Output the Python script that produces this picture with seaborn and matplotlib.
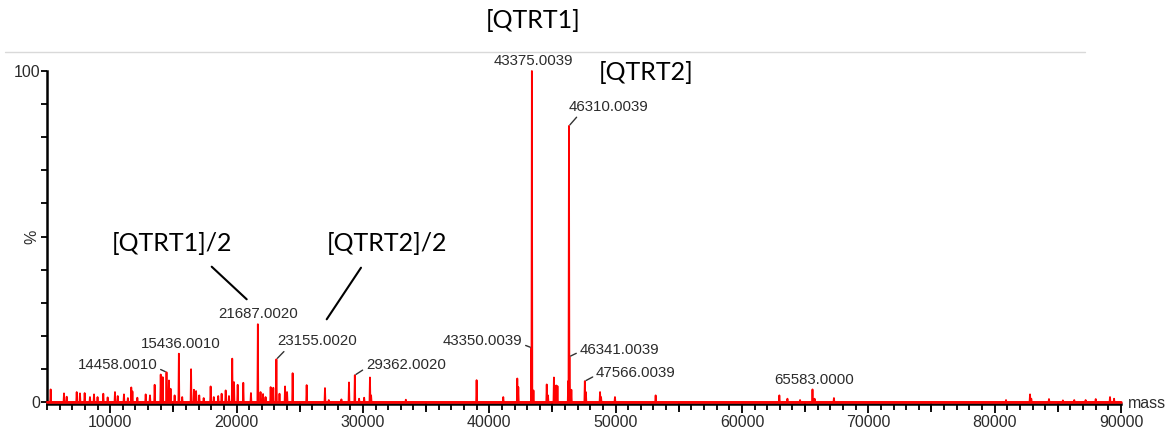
import matplotlib
matplotlib.use("Agg")
import matplotlib.pyplot as plt
from matplotlib.lines import Line2D
import numpy as np
import pandas as pd
import seaborn as sns

# ---- spectrum data -------------------------------------------------------
# labelled peaks (label text gives the mass) and their relative intensities (%)
labelled_peaks = ["14458.0010", "15436.0010", "21687.0020", "23155.0020",
                  "29362.0020", "43350.0039", "43375.0039", "46310.0039",
                  "46341.0039", "47566.0039", "65583.0000"]
labelled_heights = [9.0, 14.6, 23.5, 12.9, 8.1, 16.4, 100.0, 83.4, 13.7, 6.3, 3.8]

# remaining, unlabelled peaks
other_masses = [5290, 6345, 6560, 7350, 7610, 7980, 8400, 8720, 9000, 9455,
                9800, 10380, 10600, 11090, 11400, 11670, 11760, 12150, 12810,
                13150, 13520, 14000, 14160, 14650, 14780, 15100, 15700, 16400,
                16630, 16800, 17050, 17400, 17950, 18200, 18550, 18820, 19140,
                19400, 19660, 19800, 20090, 20535, 21140, 21900, 22100, 22300,
                22700, 22910, 23400, 23840, 24000, 24440, 25550, 27000, 27300,
                28300, 28900, 29700, 30100, 30560, 30650, 33400, 39000, 41110,
                42220, 42300, 43500, 44550, 44650, 45120, 45300, 45400, 46250,
                46500, 47650, 48770, 48850, 49950, 53170, 62960, 63600, 64600,
                65750, 67280, 80900, 82800, 82900, 84300, 85400, 86300, 87200,
                88000, 89130, 89450]
other_heights = [3.8, 2.6, 1.6, 3.0, 2.6, 2.7, 1.5, 2.3, 1.5, 2.5,
                 1.4, 3.0, 1.8, 2.3, 1.2, 4.4, 3.2, 1.3, 2.3,
                 2.0, 5.2, 8.3, 7.5, 6.5, 4.0, 2.0, 1.5, 9.9,
                 3.7, 3.3, 2.0, 1.2, 4.7, 1.5, 1.8, 2.5, 3.5,
                 1.8, 13.1, 6.0, 5.2, 5.8, 2.7, 3.0, 2.4, 1.5,
                 4.5, 4.3, 2.5, 4.7, 3.0, 8.7, 5.1, 4.2, 0.6,
                 0.8, 5.9, 1.0, 1.3, 7.4, 2.0, 0.7, 6.6, 1.5,
                 7.1, 4.5, 3.5, 5.3, 2.0, 7.4, 5.0, 4.8, 6.3,
                 3.7, 3.0, 3.0, 1.5, 1.5, 2.0, 2.0, 1.0, 0.6,
                 1.0, 1.2, 0.6, 2.3, 1.0, 0.9, 0.5, 0.6, 0.6,
                 0.9, 1.5, 1.0]

x_tick_values = [10000, 20000, 30000, 40000, 50000, 60000, 70000, 80000, 90000]

# ---- build a stick profile from the peak list ---------------------------
peaks = pd.DataFrame({
    "mass": [float(s) for s in labelled_peaks] + other_masses,
    "intensity": labelled_heights + other_heights,
}).sort_values("mass")

half_width = 35.0
xs, ys = [5000.0], [0.0]
for m, h in zip(peaks["mass"], peaks["intensity"]):
    xs += [m - half_width, m, m + half_width]
    ys += [0.0, h, 0.0]
xs.append(90000.0)
ys.append(0.0)
profile = pd.DataFrame({"mass": xs, "intensity": ys})

# ---- figure --------------------------------------------------------------
sns.set_style("ticks")
plt.rcParams["font.family"] = ["Liberation Sans", "DejaVu Sans"]

W, H = 1170, 429
fig = plt.figure(figsize=(W / 100, H / 100), dpi=100)
fig.patch.set_facecolor("white")

def fx(px):
    return px / W

def fy(py):
    return 1 - py / H

ax = fig.add_axes([fx(47), fy(402.0), fx(1121) - fx(47), fy(71.0) - fy(402.0)])

sns.lineplot(data=profile, x="mass", y="intensity", sort=False, estimator=None,
             color="#ff0000", linewidth=1.3, ax=ax, clip_on=False, zorder=3)
ax.axhline(0, color="#ff0000", linewidth=1.8, zorder=3, clip_on=False)

ax.set_xlim(5000, 90000)
ax.set_ylim(0, 100)
ax.set_xlabel("")
ax.set_ylabel("")
ax.set_facecolor("white")

for side in ("top", "right"):
    ax.spines[side].set_visible(False)
for side in ("left", "bottom"):
    ax.spines[side].set_color("black")
    ax.spines[side].set_linewidth(1.8)
    ax.spines[side].set_zorder(2)
ax.spines["bottom"].set_position(("outward", 1.6))

tick_color = "#2b2b2b"
ax.set_xticks(x_tick_values)
ax.set_xticklabels([str(v) for v in x_tick_values])
ax.set_xticks(np.arange(5000, 90001, 1000), minor=True)
ax.tick_params(axis="x", which="major", length=6.5, width=1.3, color="black",
               labelsize=11.5, labelcolor=tick_color, pad=1)
ax.tick_params(axis="x", which="minor", length=4, width=1.3, color="black")

ax.set_yticks(np.arange(0, 101, 10))
ax.set_yticklabels(["0"] + [""] * 9 + ["100"])
ax.tick_params(axis="y", which="major", length=4, width=1.3, color="black",
               labelsize=11.5, labelcolor=tick_color, pad=1)

# longer ticks at the half-decade positions
ax.plot(list(range(15000, 90000, 10000)), [0] * 8, linestyle="none",
        marker=3, markersize=7.5, color="black", markeredgewidth=1.3,
        clip_on=False, zorder=1)

fig.text(fx(32), fy(237), "%", rotation=90, ha="center", va="center",
         fontsize=11.5, color=tick_color)
fig.text(fx(1128), fy(404), "mass", ha="left", va="center",
         fontsize=11.5, color=tick_color)

# ---- peak labels ---------------------------------------------------------
# (dx, dy) offset of the label centre from the apex in pixels; leader start
label_layout = {
    "14458.0010": ((-49, 7), (1.0, 0.3)),
    "15436.0010": ((2, 10), None),
    "21687.0020": ((0, 10), None),
    "23155.0020": ((41, 18), (0.12, 0.0)),
    "29362.0020": ((51, 10), (0.0, 0.3)),
    "43350.0039": ((-49, 7), (1.0, 0.25)),
    "43375.0039": ((1, 10), None),
    "46310.0039": ((40, 19), (0.13, 0.0)),
    "46341.0039": ((50, 7), (0.0, 0.35)),
    "47566.0039": ((51, 8), (0.0, 0.35)),
    "65583.0000": ((2, 9), None),
}
for text, h in zip(labelled_peaks, labelled_heights):
    (dx, dy), rel = label_layout[text]
    kw = {}
    if rel is not None:
        kw["arrowprops"] = dict(arrowstyle="-", color="#333333", lw=1.0,
                                relpos=rel, shrinkA=0, shrinkB=1)
    ax.annotate(text, xy=(float(text), h), xytext=(dx, dy),
                textcoords="offset pixels", ha="center", va="center",
                fontsize=10.8, color=tick_color, annotation_clip=False, **kw)

# ---- species annotations -------------------------------------------------
big = dict(family=["Lato", "DejaVu Sans"], fontsize=18, color="black",
           ha="center", va="center")
fig.text(fx(533), fy(21), "[QTRT1]", **big)
fig.text(fx(646), fy(73), "[QTRT2]", **big)
fig.text(fx(172), fy(244), "[QTRT1]/2", **big)
fig.text(fx(387), fy(244), "[QTRT2]/2", **big)

fig.add_artist(Line2D([fx(211.7), fx(246.7)], [fy(266.7), fy(299.3)],
                      color="black", lw=1.5))
fig.add_artist(Line2D([fx(361), fx(326.7)], [fy(267.7), fy(319.3)],
                      color="black", lw=1.5))
fig.add_artist(Line2D([fx(5), fx(1085)], [fy(52), fy(52)],
                      color="#d9d9d9", lw=1.0))

fig.savefig("out.png", dpi=100, facecolor="white")
